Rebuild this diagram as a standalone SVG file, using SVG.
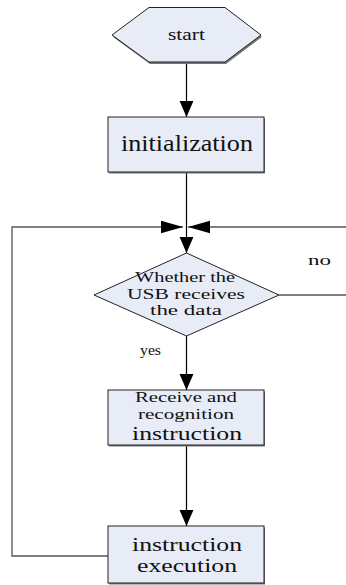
<svg xmlns="http://www.w3.org/2000/svg" width="346" height="585" viewBox="0 0 346 585">
<style>
.node{fill:#e7ecf7;stroke:#222;stroke-width:1}
.shadow{fill:#777;stroke:none}
.t{font-family:"Liberation Serif","Times New Roman",serif;fill:#111;text-anchor:middle}
.lbl{font-family:"Liberation Serif","Times New Roman",serif;fill:#111}
.flow{fill:none;stroke:#000;stroke-width:1.2}
.loop{fill:none;stroke:#555;stroke-width:1.3}
</style>
<defs>
<marker id="av" markerUnits="userSpaceOnUse" markerWidth="16" markerHeight="16" viewBox="0 0 15 13" refX="15" refY="6.5" orient="auto">
<path d="M0,0 L15,6.5 L0,13 Z" fill="#000"/>
</marker>
<marker id="ah" markerUnits="userSpaceOnUse" markerWidth="22" markerHeight="14" viewBox="0 0 21 12" refX="21" refY="6" orient="auto">
<path d="M0,0 L21,6 L0,12 Z" fill="#000"/>
</marker>
</defs>

<g id="connectors">
<line class="flow" x1="186.5" y1="63" x2="186.5" y2="117" marker-end="url(#av)"/>
<line class="flow" x1="186.5" y1="172" x2="186.5" y2="253" marker-end="url(#av)"/>
<line class="flow" x1="186.5" y1="336" x2="186.5" y2="390" marker-end="url(#av)"/>
<line class="flow" x1="186.5" y1="445" x2="186.5" y2="526" marker-end="url(#av)"/>
<polyline class="loop" points="108,556 12,556 12,227 183,227" marker-end="url(#ah)"/>
<polyline class="loop" points="279,295 347,295 347,227 188,227" marker-end="url(#ah)"/>
<text class="lbl" x="308" y="265" font-size="15" textLength="23" lengthAdjust="spacingAndGlyphs">no</text>
<text class="lbl" x="140" y="355" font-size="15" textLength="21" lengthAdjust="spacingAndGlyphs">yes</text>
</g>

<g id="start">
<polygon class="shadow" points="150,9 226,9 262,37 226,64 150,64 113,37"/>
<polygon class="node" points="149,7.5 225,7.5 261,35 225,62 149,62 112,35"/>
<text class="t" x="186.5" y="40" font-size="16" textLength="37" lengthAdjust="spacingAndGlyphs">start</text>
</g>

<g id="init">
<rect class="shadow" x="109" y="118.5" width="156" height="55"/>
<rect class="node" x="108" y="117" width="156" height="55"/>
<text class="t" x="187" y="151" font-size="24" textLength="132" lengthAdjust="spacingAndGlyphs">initialization</text>
</g>

<g id="decision">
<polygon class="node" points="186.5,253 279,295 186.5,336 94,295"/>
<text class="t" x="185" y="282" font-size="15" textLength="100" lengthAdjust="spacingAndGlyphs">Whether the</text>
<text class="t" x="186" y="299" font-size="15" textLength="118" lengthAdjust="spacingAndGlyphs">USB receives</text>
<text class="t" x="186" y="315" font-size="15" textLength="72" lengthAdjust="spacingAndGlyphs">the data</text>
</g>

<g id="receive">
<rect class="shadow" x="109" y="391.5" width="156" height="55"/>
<rect class="node" x="108" y="390" width="156" height="55"/>
<text class="t" x="186" y="402" font-size="14" textLength="102" lengthAdjust="spacingAndGlyphs">Receive and</text>
<text class="t" x="186" y="419" font-size="14" textLength="96" lengthAdjust="spacingAndGlyphs">recognition</text>
<text class="t" x="187" y="440" font-size="19" textLength="110" lengthAdjust="spacingAndGlyphs">instruction</text>
</g>

<g id="execute">
<rect class="shadow" x="109" y="527.5" width="156" height="57"/>
<rect class="node" x="108" y="526" width="156" height="57"/>
<text class="t" x="187" y="551" font-size="19" textLength="110" lengthAdjust="spacingAndGlyphs">instruction</text>
<text class="t" x="187" y="572" font-size="19" textLength="100" lengthAdjust="spacingAndGlyphs">execution</text>
</g>
</svg>
